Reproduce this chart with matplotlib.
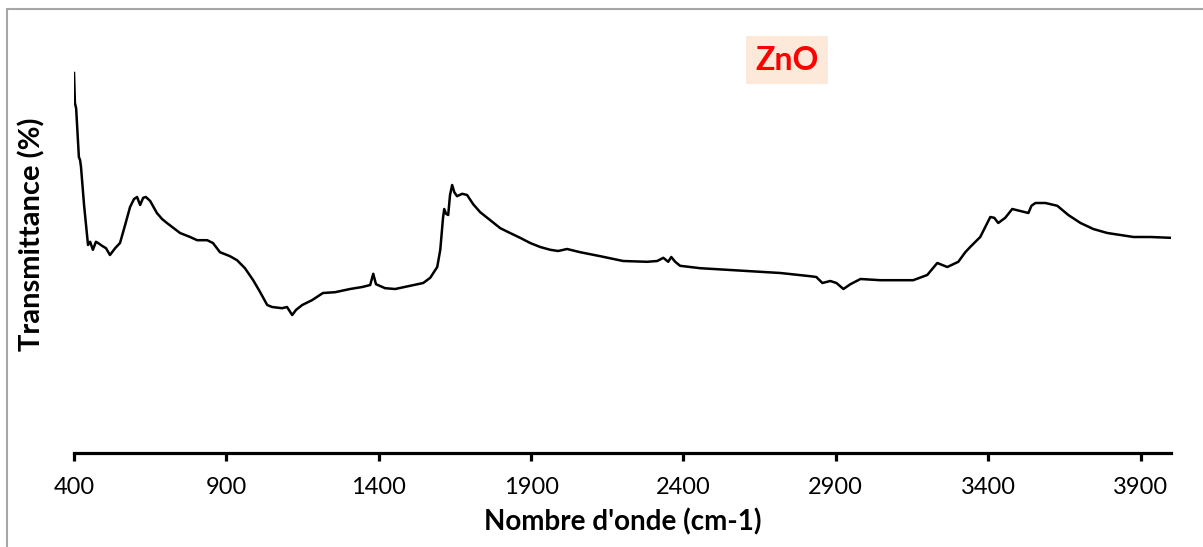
import matplotlib
matplotlib.use("Agg")
import matplotlib.pyplot as plt
from matplotlib.patches import Rectangle

# spectre FTIR ZnO (unités arbitraires)
nombre_onde = [400, 403, 407, 413, 416, 420, 423, 433, 446, 453, 462, 472, 479, 492, 505, 518,
               535, 551, 567, 584, 597, 607, 617, 627, 636, 650, 672, 689, 705, 748, 781, 804,
               837, 856, 879, 912, 935, 961, 988, 1011, 1034, 1050, 1083, 1099, 1116, 1129,
               1149, 1181, 1217, 1257, 1306, 1346, 1372, 1382, 1391, 1421, 1454, 1503, 1546,
               1569, 1592, 1602, 1611, 1615, 1621, 1628, 1634, 1641, 1648, 1657, 1674, 1690,
               1710, 1733, 1766, 1799, 1831, 1864, 1897, 1930, 1963, 1989, 2018, 2061, 2127,
               2202, 2281, 2314, 2334, 2350, 2360, 2373, 2389, 2455, 2609, 2718, 2816, 2836,
               2856, 2882, 2902, 2925, 2948, 2981, 3046, 3154, 3200, 3233, 3266, 3302, 3325,
               3341, 3374, 3407, 3420, 3433, 3456, 3479, 3506, 3532, 3542, 3555, 3588, 3627,
               3663, 3703, 3745, 3791, 3834, 3877, 3933, 3998]
transmittance = [95.0, 87.5, 86.2, 78.2, 74.0, 73.2, 71.5, 62.0, 52.0, 52.8, 50.8, 52.8, 52.5,
                 51.8, 51.2, 49.5, 51.2, 52.5, 56.8, 61.5, 63.5, 64.0, 62.0, 63.8, 64.0, 63.0,
                 60.0, 58.5, 57.5, 55.0, 54.0, 53.2, 53.2, 52.5, 50.2, 49.2, 48.2, 46.2, 43.2,
                 40.2, 37.0, 36.5, 36.2, 36.5, 34.5, 35.8, 37.0, 38.2, 40.0, 40.2, 41.0, 41.5,
                 42.0, 44.8, 42.2, 41.2, 41.0, 41.8, 42.5, 43.8, 46.5, 50.8, 58.8, 61.0, 59.8,
                 59.5, 64.5, 67.0, 65.2, 64.2, 64.8, 64.5, 62.2, 60.2, 58.2, 56.2, 55.0, 53.8,
                 52.5, 51.5, 50.8, 50.5, 51.0, 50.2, 49.2, 48.0, 47.8, 48.0, 48.8, 47.8, 49.0,
                 47.8, 46.8, 46.2, 45.5, 45.0, 44.2, 44.0, 42.5, 43.0, 42.5, 41.0, 42.2, 43.5,
                 43.2, 43.2, 44.5, 47.5, 46.5, 47.8, 50.2, 51.5, 54.0, 59.0, 58.8, 57.5, 58.8,
                 61.0, 60.5, 60.0, 61.8, 62.5, 62.5, 61.8, 59.5, 57.5, 56.0, 55.0, 54.5, 54.0,
                 54.0, 53.8]
graduations = [400, 900, 1400, 1900, 2400, 2900, 3400, 3900]

plt.rcParams["font.family"] = ["Lato", "DejaVu Sans"]

fig = plt.figure(figsize=(12.03, 5.47), dpi=100)
ax = fig.add_axes([74 / 1203, 94 / 547, 1097 / 1203, 400 / 547])

ax.plot(nombre_onde, transmittance, color="black", lw=1.8)
ax.set_xlim(400, 4000)
ax.set_ylim(0, 100)
ax.set_xticks(graduations)
ax.set_yticks([])

for s in ["left", "right", "top"]:
    ax.spines[s].set_visible(False)
ax.spines["bottom"].set_linewidth(2.3)
ax.tick_params(axis="x", direction="out", length=6, width=2.3, labelsize=17, pad=11)

ax.set_xlabel("Nombre d'onde (cm-1)", fontsize=20, fontweight="bold", labelpad=8)
fig.text(32 / 1203, 1 - 234 / 547, "Transmittance (%)", rotation=90, fontsize=21,
         fontweight="bold", ha="center", va="center")

fig.text(787 / 1203, 1 - 60 / 547, "ZnO", color="red", fontsize=23, fontweight="bold",
         ha="center", va="center",
         bbox=dict(facecolor="#fde9d9", edgecolor="none", boxstyle="square,pad=0.3"))

# cadre gris
fig.add_artist(Rectangle((7 / 1203, -0.1), 1.1, 1 - 9 / 547 + 0.1, transform=fig.transFigure,
                         fill=False, edgecolor="#a6a6a6", lw=1.5))

fig.savefig("out.png", dpi=100)
plt.close(fig)
